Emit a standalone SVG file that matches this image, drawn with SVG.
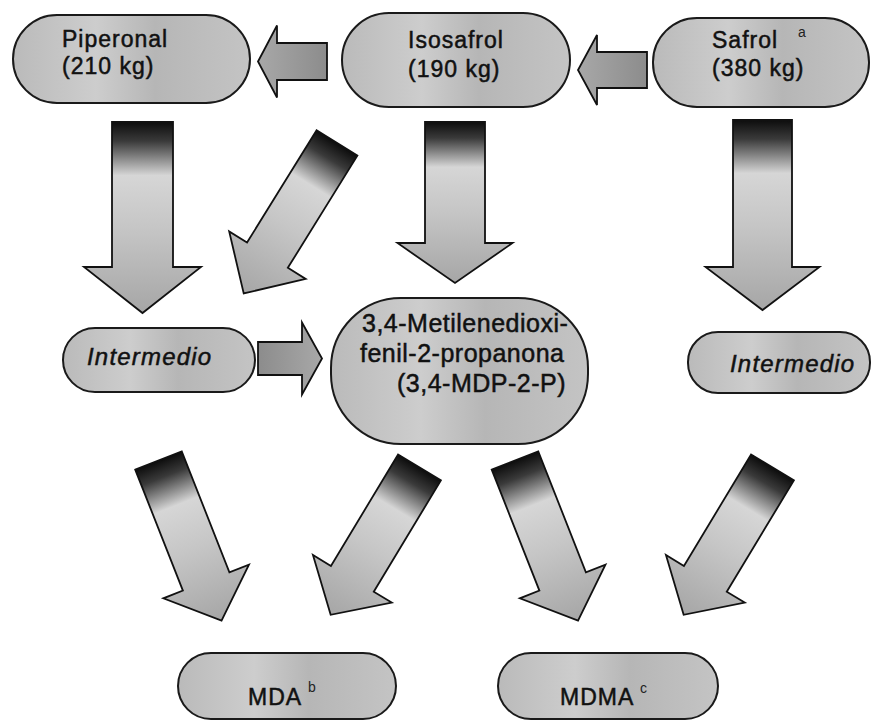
<svg xmlns="http://www.w3.org/2000/svg" width="872" height="722" viewBox="0 0 872 722">
  <defs>
    <style>
      .node { fill: url(#nodeFill); stroke: #1a1a1a; stroke-width: 2; }
      .label { font-family: "Liberation Sans", Arial, sans-serif; font-size: 23px; letter-spacing: 1px; fill: #111; stroke: #111; stroke-width: 0.5px; }
      .big { font-size: 25px; letter-spacing: 0.5px; }
      .it { font-style: italic; font-size: 24px; letter-spacing: 1.2px; }
      .sup { font-family: "Liberation Sans", Arial, sans-serif; font-size: 14px; fill: #222; }
      .fat { fill: url(#fatArrow); stroke: #111; stroke-width: 1.8; stroke-linejoin: miter; }
      .flat { fill: url(#flatArrow); stroke: #111; stroke-width: 1.8; }
    </style>
    <!-- pill fill: speckled mid-grey with lighter middle -->
    <linearGradient id="nodeFill" x1="0" y1="0" x2="1" y2="0">
      <stop offset="0" stop-color="#bababa"/>
      <stop offset="0.35" stop-color="#cdcdcd"/>
      <stop offset="0.6" stop-color="#b6b6b6"/>
      <stop offset="1" stop-color="#c4c4c4"/>
    </linearGradient>
    <!-- thick arrows: black at the tail fading to light grey, darker toward the head -->
    <linearGradient id="fatArrow" x1="0" y1="0" x2="0" y2="1">
      <stop offset="0" stop-color="#0d0d0d"/>
      <stop offset="0.1" stop-color="#3a3a3a"/>
      <stop offset="0.28" stop-color="#d6d6d6"/>
      <stop offset="0.55" stop-color="#c6c6c6"/>
      <stop offset="1" stop-color="#a6a6a6"/>
    </linearGradient>
    <linearGradient id="flatArrow" x1="0" y1="0" x2="0" y2="1">
      <stop offset="0" stop-color="#8c8c8c"/>
      <stop offset="1" stop-color="#a8a8a8"/>
    </linearGradient>
  </defs>

  <rect width="872" height="722" fill="#ffffff"/>

  <!-- connectors -->
  <g id="connectors">
    <!-- horizontal arrows, top row -->
    <polygon class="flat" transform="translate(327,61.5) rotate(90)" points="-18.5,0 18.5,0 18.5,50 36,50 0,69 -36,50 -18.5,50"/>
    <polygon class="flat" transform="translate(647,70) rotate(90)" points="-18,0 18,0 18,50 35,50 0,69 -35,50 -18,50"/>
    <!-- vertical arrows -->
    <polygon class="fat" transform="translate(142.5,122)" points="-30.5,0 30.5,0 30.5,145 58.5,145 0,191 -58.5,145 -30.5,145"/>
    <polygon class="fat" transform="translate(455,122)" points="-30,0 30,0 30,121 57.5,121 0,161 -57.5,121 -30,121"/>
    <polygon class="fat" transform="translate(762.5,120)" points="-29.5,0 29.5,0 29.5,147 57,147 0,190 -57,147 -29.5,147"/>
    <!-- diagonal arrow under Isosafrol -->
    <polygon class="fat" transform="translate(337,143) rotate(31.8)" points="-24,0 24,0 24,132 45,132 0,177 -45,132 -24,132"/>
    <!-- Intermedio to the ketone -->
    <polygon class="flat" transform="translate(258,358.5) rotate(-90)" points="-16.5,0 16.5,0 16.5,44 36,44 0,64 -36,44 -16.5,44"/>
    <!-- lower diagonal arrows -->
    <polygon class="fat" transform="translate(158.5,460.5) rotate(-21.5)" points="-25,0 25,0 25,130 46,130 0,172 -46,130 -25,130"/>
    <polygon class="fat" transform="translate(419.5,467.5) rotate(31.1)" points="-25,0 25,0 25,130 46,130 0,172 -46,130 -25,130"/>
    <polygon class="fat" transform="translate(515,460.5) rotate(-21.5)" points="-25,0 25,0 25,130 46,130 0,172 -46,130 -25,130"/>
    <polygon class="fat" transform="translate(772.5,467.5) rotate(31.1)" points="-25,0 25,0 25,130 46,130 0,172 -46,130 -25,130"/>
  </g>

  <g id="piperonal">
    <rect class="node" x="13" y="15" width="237" height="88" rx="44"/>
    <text class="label" x="62" y="47">Piperonal</text>
    <text class="label" x="62" y="74">(210 kg)</text>
  </g>

  <g id="isosafrol">
    <rect class="node" x="342" y="13" width="228" height="94" rx="47"/>
    <text class="label" x="408" y="48">Isosafrol</text>
    <text class="label" x="408" y="77">(190 kg)</text>
  </g>

  <g id="safrol">
    <rect class="node" x="653" y="18" width="216" height="89" rx="44"/>
    <text class="label" x="712" y="48">Safrol</text>
    <text class="sup" x="798" y="37">a</text>
    <text class="label" x="712" y="76">(380 kg)</text>
  </g>

  <g id="intermedio-left">
    <rect class="node" x="63" y="328" width="192" height="64" rx="32"/>
    <text class="label it" x="87" y="365">Intermedio</text>
  </g>

  <g id="mdp2p">
    <rect class="node" x="331" y="298" width="257" height="146" rx="70"/>
    <text class="label big" x="362" y="332">3,4-Metilenedioxi-</text>
    <text class="label big" x="360" y="362">fenil-2-propanona</text>
    <text class="label big" x="397" y="392">(3,4-MDP-2-P)</text>
  </g>

  <g id="intermedio-right">
    <rect class="node" x="688" y="332" width="182" height="61" rx="30"/>
    <text class="label it" x="730" y="372">Intermedio</text>
  </g>

  <g id="mda">
    <rect class="node" x="178" y="653" width="218" height="66" rx="33"/>
    <text class="label" x="248" y="705">MDA</text>
    <text class="sup" x="308" y="692">b</text>
  </g>

  <g id="mdma">
    <rect class="node" x="498" y="653" width="220" height="66" rx="33"/>
    <text class="label" x="560" y="705">MDMA</text>
    <text class="sup" x="640" y="693">c</text>
  </g>
</svg>
